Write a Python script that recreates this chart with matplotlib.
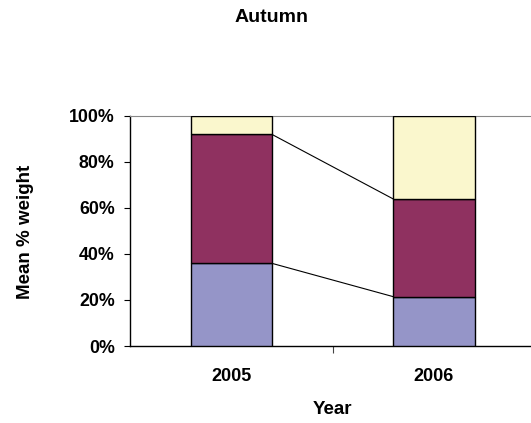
import matplotlib
matplotlib.use("Agg")
import matplotlib.pyplot as plt
import numpy as np

# data (stacked percentages per year)
years = ["2005", "2006"]
bottom_share = [35.9, 21.4]
middle_share = [56.0, 42.4]
top_share = [8.1, 36.2]
colors = ["#9595C8", "#8F3160", "#FAF7CD"]

plt.rcParams["font.family"] = ["Liberation Sans", "DejaVu Sans"]
plt.rcParams["font.weight"] = "bold"

fig = plt.figure(figsize=(5.31, 4.23), dpi=100)
ax = fig.add_axes([130 / 531, 77 / 423, 405.3 / 531, 230.3 / 423])

x = np.arange(len(years))
width = 0.4
b1 = np.array(bottom_share)
b2 = b1 + np.array(middle_share)
for vals, base, col in zip([bottom_share, middle_share, top_share], [0, b1, b2], colors):
    ax.bar(x, vals, width, bottom=base, color=col, edgecolor="black", linewidth=1.0, zorder=3)

# series lines between stack boundaries
for level in (b1, b2):
    ax.plot([x[0] + width / 2, x[1] - width / 2], [level[0], level[1]],
            color="black", linewidth=0.8, zorder=2)

ax.set_xlim(-0.5, 1.5)
ax.set_ylim(0, 100)
ax.set_yticks(np.arange(0, 101, 20))
ax.set_yticklabels([f"{v}%" for v in range(0, 101, 20)], fontsize=12.8, fontweight="bold")
ax.set_xticks(x)
ax.set_xticklabels(years, fontsize=13, fontweight="bold")
ax.tick_params(axis="x", length=0, pad=16)
ax.set_xticks([0.5], minor=True)
ax.tick_params(axis="x", which="minor", length=5, width=0.8, color="#444444")
ax.tick_params(axis="y", length=4, width=0.8, pad=7)

ax.spines["top"].set_color("#888888")
ax.spines["right"].set_visible(False)
ax.spines["left"].set_linewidth(1.0)
ax.spines["bottom"].set_linewidth(1.0)

fig.text(272 / 531, 1 - 17 / 423, "Autumn", ha="center", va="center",
         fontsize=14, fontweight="bold")
fig.text(25 / 531, 1 - 232 / 423, "Mean % weight", ha="center", va="center",
         rotation=90, fontsize=13.5, fontweight="bold")
fig.text(332 / 531, 1 - 409 / 423, "Year", ha="center", va="center",
         fontsize=13.5, fontweight="bold")

fig.savefig("out.png", dpi=100)
